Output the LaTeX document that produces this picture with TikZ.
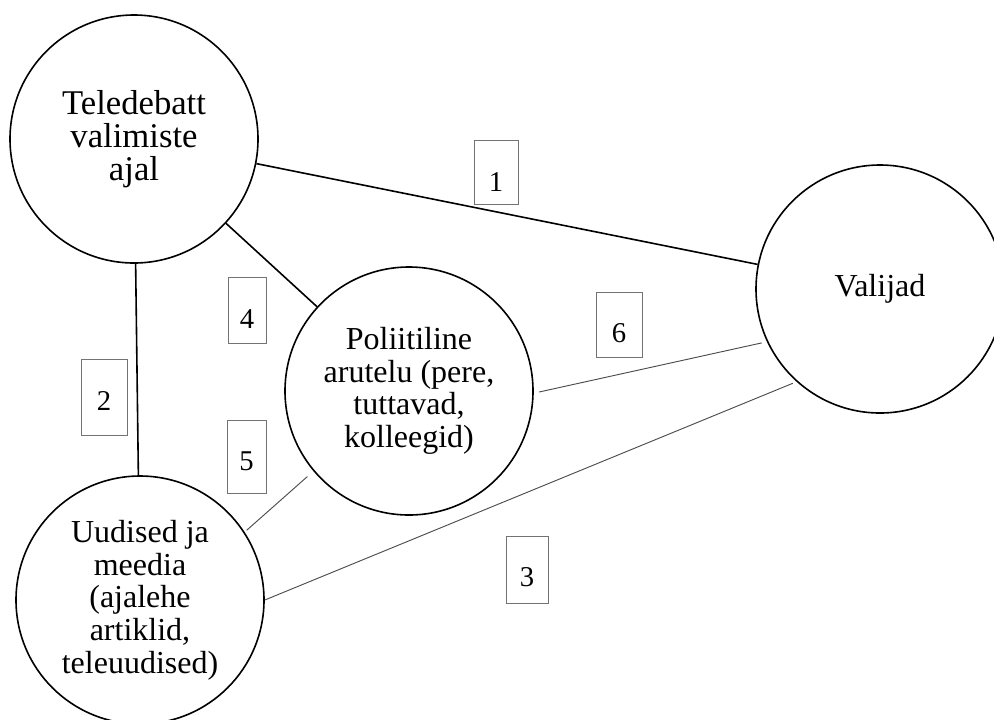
\documentclass[tikz,border=0pt]{standalone}
\usepackage{fontspec}
\setmainfont{Liberation Serif}
\usetikzlibrary{calc}
\definecolor{boxgray}{gray}{0.45}
\definecolor{thingray}{gray}{0.3}
\begin{document}
\begin{tikzpicture}[x=0.75pt,y=-0.75pt,
  bubble/.style={circle, draw=black, line width=1.2pt, minimum size=186pt, inner sep=0pt, align=center, font=\fontsize{24}{24.5}\selectfont},
  lbox/.style={draw=boxgray, line width=0.6pt, inner sep=0pt},
  num/.style={font=\fontsize{21.5}{24}\selectfont, anchor=center, yshift=-31.5pt, inner sep=0pt},
  strong/.style={draw=black, line width=1.2pt},
  weak/.style={draw=thingray, line width=0.7pt}]
\useasboundingbox (0,0) rectangle (994,719);
\clip (0,0) rectangle (994,719);

\node[bubble, font=\fontsize{26}{25}\selectfont] (T) at (134,139) {Teledebatt\\valimiste\\ajal};
\node[bubble] (V) at (880,289) {Valijad};
\node[bubble] (P) at (409,391) {Poliitiline\\arutelu (pere,\\tuttavad,\\kolleegid)};
\node[bubble] (U) at (140,600) {Uudised ja\\meedia\\(ajalehe\\artiklid,\\teleuudised)};

\draw[strong] (T) -- (V);
\draw[strong] (T) -- (U);
\draw[strong] (T) -- (P);
\draw[weak, shorten <=4pt, shorten >=4pt] (P.-1) -- (V.205);
\draw[weak, shorten >=3pt] (U.0) -- (V.228);
\draw[weak, shorten <=2pt, shorten >=6pt] (U.33) -- (P.220);

\node[lbox, minimum width=33pt, minimum height=48pt, label={[num]north:1}] (b1) at (496,172) {};
\node[lbox, minimum width=34.5pt, minimum height=57pt, label={[num]north:2}] (b2) at (104,397) {};
\node[lbox, minimum width=31.5pt, minimum height=50.25pt, label={[num]north:3}] (b3) at (527,569.5) {};
\node[lbox, minimum width=28.5pt, minimum height=49.5pt, label={[num]north:4}] (b4) at (247,310) {};
\node[lbox, minimum width=29.25pt, minimum height=54.75pt, label={[num]north:5}] (b5) at (246.5,456.5) {};
\node[lbox, minimum width=34.5pt, minimum height=48.75pt, label={[num]north:6}] (b6) at (619,324.5) {};
\end{tikzpicture}
\end{document}
